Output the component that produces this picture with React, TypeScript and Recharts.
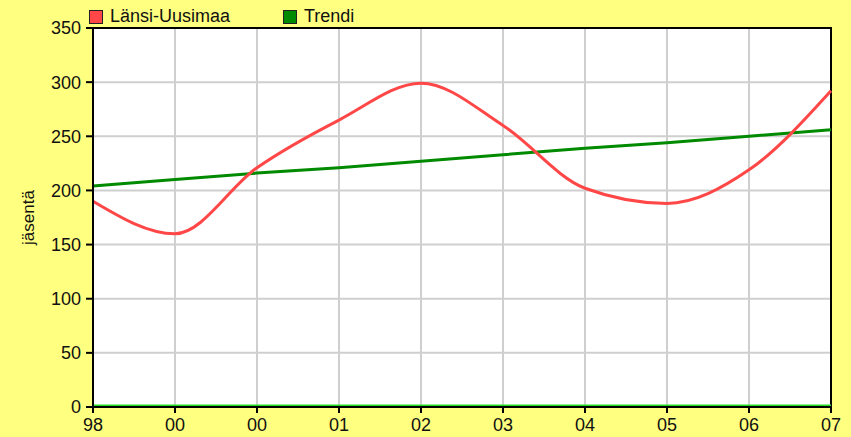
import React from 'react';
import {
  LineChart,
  Line,
  XAxis,
  YAxis,
  CartesianGrid,
  ReferenceArea,
} from 'recharts';

const years = ['98', '00', '00', '01', '02', '03', '04', '05', '06', '07'];
const lansiUusimaa = [190, 160, 221, 265, 299, 260, 202, 188, 219, 292];
const trendi = [204, 210, 216, 221, 227, 233, 239, 244, 250, 256];
const baseline = [0, 0, 0, 0, 0, 0, 0, 0, 0, 0];
const yTicks = [0, 50, 100, 150, 200, 250, 300, 350];

const seriesNames = { main: 'Länsi-Uusimaa', trend: 'Trendi' };
const RED = '#ff4747';
const GREEN = '#008a00';
const FONT = '"Liberation Sans", Arial, sans-serif';

const data = years.map((year, i) => ({
  i,
  year,
  main: lansiUusimaa[i],
  trend: trendi[i],
  zero: baseline[i],
}));

function LegendItem({ color, label, left }: { color: string; label: string; left: number }) {
  return (
    <div style={{ position: 'absolute', left, top: 6, display: 'flex', alignItems: 'center' }}>
      <span
        style={{
          width: 12,
          height: 12,
          background: color,
          border: '1px solid #222',
          display: 'inline-block',
          marginRight: 7,
        }}
      />
      <span style={{ fontSize: 18, color: '#111', fontFamily: FONT }}>{label}</span>
    </div>
  );
}

export default function App() {
  const tickStyle = { fontSize: 18, fill: '#111', fontFamily: FONT };
  return (
    <div
      style={{
        position: 'absolute',
        left: 0,
        top: 0,
        width: 851,
        height: 437,
        background: '#ffff80',
        fontFamily: FONT,
      }}
    >
      <LegendItem color={RED} label={seriesNames.main} left={89} />
      <LegendItem color={GREEN} label={seriesNames.trend} left={283} />
      <LineChart width={851} height={437} data={data} margin={{ top: 28, right: 20, bottom: 0, left: 0 }}>
        <CartesianGrid stroke="#cfcfcf" strokeWidth={2} fill="#ffffff" />
        <XAxis
          dataKey="i"
          type="number"
          domain={[0, years.length - 1]}
          ticks={years.map((_, i) => i)}
          tickFormatter={(v: number) => years[v]}
          height={30}
          tick={tickStyle}
          tickSize={6}
          tickMargin={5}
          stroke="#000"
          strokeWidth={2}
          interval={0}
        />
        <YAxis
          domain={[0, 350]}
          allowDataOverflow
          ticks={yTicks}
          width={93}
          tick={tickStyle}
          tickSize={7}
          tickMargin={5}
          stroke="#000"
          strokeWidth={2}
          interval={0}
          label={{
            value: 'jäsentä',
            angle: -90,
            position: 'center',
            dx: -19,
            style: { fontSize: 17, fill: '#111', fontFamily: FONT },
          }}
        />
        <Line
          dataKey="zero"
          stroke="#22dd22"
          strokeWidth={5}
          dot={false}
          isAnimationActive={false}
          legendType="none"
        />
        <Line
          dataKey="trend"
          name={seriesNames.trend}
          stroke={GREEN}
          strokeWidth={3}
          dot={false}
          type="linear"
          isAnimationActive={false}
        />
        <Line
          dataKey="main"
          name={seriesNames.main}
          stroke={RED}
          strokeWidth={3}
          dot={false}
          type="monotone"
          isAnimationActive={false}
        />
        <ReferenceArea
          x1={0}
          x2={years.length - 1}
          y1={0}
          y2={350}
          fill="none"
          stroke="#000"
          strokeWidth={2}
          ifOverflow="visible"
        />
      </LineChart>
    </div>
  );
}
